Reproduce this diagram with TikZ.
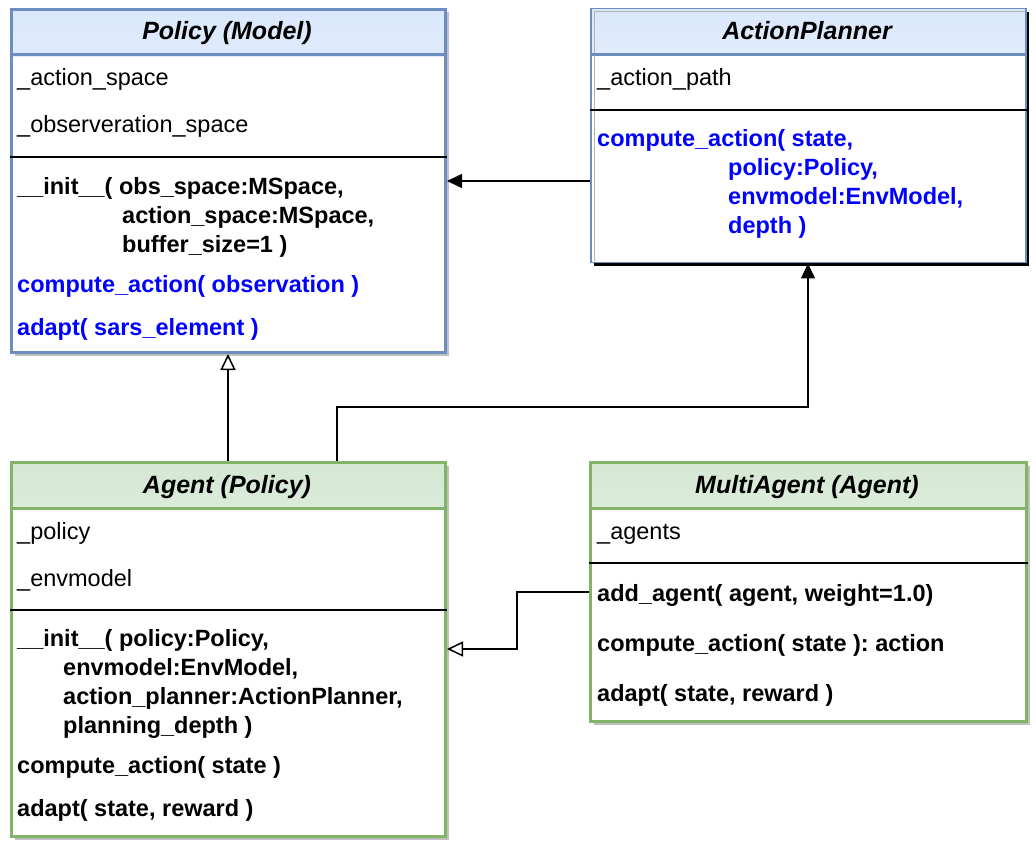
\documentclass[tikz,border=0pt]{standalone}
\usepackage{fontspec}
\setmainfont{Liberation Sans}
\usetikzlibrary{arrows.meta,shadows}
\definecolor{bluebd}{HTML}{6C8EBF}
\definecolor{bluefill}{HTML}{DAE8FC}
\definecolor{greenbd}{HTML}{82B366}
\definecolor{greenfill}{HTML}{D5E8D4}
\definecolor{methblue}{HTML}{0000FF}
\tikzset{
  classbox/.style={draw=#1, line width=3pt, fill=white, inner sep=0pt, anchor=north west,
    drop shadow={shadow xshift=3pt, shadow yshift=-3pt, fill=black!25, opacity=1}},
  hdrblue/.style={path picture={\shade[top color=bluefill, bottom color=white]
    (path picture bounding box.north west) rectangle ([yshift=-47pt]path picture bounding box.north east);}},
  hdrgreen/.style={path picture={\shade[top color=greenfill, bottom color=white]
    (path picture bounding box.north west) rectangle ([yshift=-47pt]path picture bounding box.north east);}},
  title/.style={font=\fontsize{25}{30}\selectfont\bfseries\itshape, inner sep=0pt, anchor=base},
  attr/.style={font=\fontsize{23.5}{28}\selectfont, inner sep=0pt, anchor=base west},
  meth/.style={font=\fontsize{23.5}{28}\selectfont\bfseries, inner sep=0pt, anchor=base west},
  bmeth/.style={meth, text=methblue},
  sep/.style={line width=1.5pt, black},
  conn/.style={line width=1.5pt, black},
  filltip/.style={-{Triangle[length=15pt,width=14pt]}},
  opentip/.style={-{Triangle[open,length=16pt,width=15pt,line width=1.5pt]}},
}
\begin{document}
\frenchspacing
\begin{tikzpicture}[x=1pt,y=-1pt]
\useasboundingbox (0,0) rectangle (1036,850);
% ---------- Policy ----------
\node[classbox=bluebd, hdrblue, minimum width=434pt, minimum height=343pt] (policy) at (10,8) {};
\draw[bluebd, line width=3pt] ([yshift=-47pt]policy.north west) -- ([yshift=-47pt]policy.north east);
\draw[sep] ([yshift=-149pt]policy.north west) -- ([yshift=-149pt]policy.north east);
\node[title] (policyT) at (227,40) {Policy (Model)};
\node[attr] (pa1) at (17,86) {\_action\_space};
\node[attr] (pa2) at (17,133) {\_observeration\_space};
\node[meth] (pm1) at (17,194.5) {\_\_init\_\_( obs\_space:MSpace,};
\node[meth] (pm2) at (122,223.5) {action\_space:MSpace,};
\node[meth] (pm3) at (122,252.5) {buffer\_size=1 )};
\node[bmeth] (pm4) at (17,292.5) {compute\_action( observation )};
\node[bmeth] (pm5) at (17,335.5) {adapt( sars\_element )};
% ---------- ActionPlanner ----------
\node[draw=bluebd, line width=1.5pt, fill=white, inner sep=0pt, anchor=north west,
  drop shadow={shadow xshift=3pt, shadow yshift=-3pt, fill=black, opacity=1},
  hdrblue, minimum width=435pt, minimum height=254pt] (planner) at (590,8) {};
\draw[black!30, line width=1pt] ([xshift=4pt,yshift=2pt]planner.south west) -- ([xshift=4pt,yshift=-4pt]planner.north west) -- ([xshift=-2pt,yshift=-4pt]planner.north east);
\draw[bluebd, line width=3pt] ([yshift=-47pt]planner.north west) -- ([yshift=-47pt]planner.north east);
\draw[sep] ([yshift=-102pt]planner.north west) -- ([yshift=-102pt]planner.north east);
\node[title] (plannerT) at (807,40) {ActionPlanner};
\node[attr] (pla1) at (597,86) {\_action\_path};
\node[bmeth] (plm1) at (597,146.5) {compute\_action( state,};
\node[bmeth] (plm2) at (728,175.5) {policy:Policy,};
\node[bmeth] (plm3) at (728,204.5) {envmodel:EnvModel,};
\node[bmeth] (plm4) at (728,233.5) {depth )};
% ---------- Agent ----------
\node[classbox=greenbd, hdrgreen, minimum width=434pt, minimum height=374pt] (agent) at (10,461) {};
\draw[greenbd, line width=3pt] ([yshift=-47pt]agent.north west) -- ([yshift=-47pt]agent.north east);
\draw[sep] ([yshift=-149pt]agent.north west) -- ([yshift=-149pt]agent.north east);
\node[title] (agentT) at (227,493.5) {Agent (Policy)};
\node[attr] (aa1) at (17,539.5) {\_policy};
\node[attr] (aa2) at (17,586) {\_envmodel};
\node[meth] (am1) at (17,646.5) {\_\_init\_\_( policy:Policy,};
\node[meth] (am2) at (63,675.5) {envmodel:EnvModel,};
\node[meth] (am3) at (63,704.5) {action\_planner:ActionPlanner,};
\node[meth] (am4) at (63,733.5) {planning\_depth )};
\node[meth] (am5) at (17,773.5) {compute\_action( state )};
\node[meth] (am6) at (17,816.5) {adapt( state, reward )};
% ---------- MultiAgent ----------
\node[classbox=greenbd, hdrgreen, minimum width=436pt, minimum height=259pt] (multi) at (589,461) {};
\draw[greenbd, line width=3pt] ([yshift=-47pt]multi.north west) -- ([yshift=-47pt]multi.north east);
\draw[sep] ([yshift=-102pt]multi.north west) -- ([yshift=-102pt]multi.north east);
\node[title] (multiT) at (807,493.5) {MultiAgent (Agent)};
\node[attr] (ma1) at (597,539) {\_agents};
\node[meth] (mm1) at (597,601) {add\_agent( agent, weight=1.0)};
\node[meth] (mm2) at (597,651) {compute\_action( state ): action};
\node[meth] (mm3) at (597,701) {adapt( state, reward )};
% ---------- Connectors ----------
\draw[conn, filltip] (planner.west |- 0,181) -- (policy.east |- 0,181);
\draw[conn, opentip] (agent.north -| 228,0) -- (policy.south -| 228,0);
\coordinate (bendA) at (337,407);
\draw[conn, filltip] (agent.north -| bendA) -- (bendA) -| (planner.south -| 808,0);
\coordinate (bendM) at (517,592);
\draw[conn, opentip] (multi.west |- bendM) -- (bendM) |- (agent.east |- 0,649);
\end{tikzpicture}
\end{document}
